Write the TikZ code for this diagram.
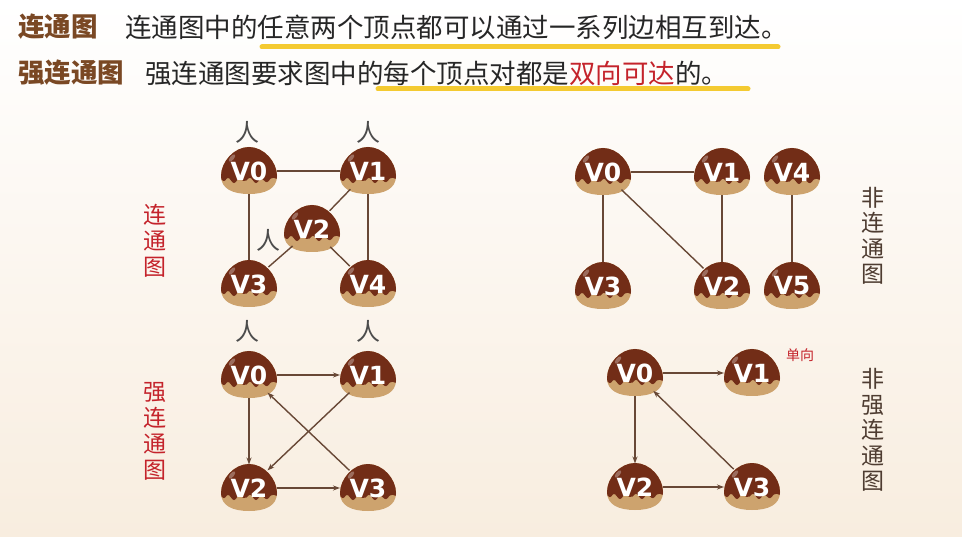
\documentclass[tikz,border=0pt]{standalone}
\usepackage{fontspec}
\usepackage{xcolor}
\usepackage{tikz}
\usetikzlibrary{positioning,shapes.geometric,arrows.meta}

\newfontfamily\cjk{Noto Sans CJK SC}
\newfontfamily\vfont{DejaVu Sans}

\definecolor{nuttop}{HTML}{722D17}
\definecolor{nutlow}{HTML}{CDA36E}
\definecolor{edgec}{HTML}{684836}
\definecolor{hlyellow}{HTML}{F4C51C}
\definecolor{tagbrown}{HTML}{7A4824}
\definecolor{redtext}{HTML}{C4232B}
\definecolor{sidebrown}{HTML}{4E3C31}
\definecolor{bgbottom}{HTML}{F8EDDF}

% outline of one chestnut, centre at origin
\newcommand\nutoutline{(0pt,24pt) .. controls (15pt,24pt) and (28pt,9pt) .. (28pt,-5pt)
  .. controls (28pt,-18pt) and (16pt,-23pt) .. (0pt,-23pt)
  .. controls (-16pt,-23pt) and (-28pt,-18pt) .. (-28pt,-5pt)
  .. controls (-28pt,9pt) and (-15pt,24pt) .. (0pt,24pt) -- cycle}

% chestnut vertex: name, position, label
\newcommand\nut[3]{%
	\begin{scope}[shift={(#2)}]
		\fill[nutlow] \nutoutline;
		\begin{scope}
			\clip \nutoutline;
			\fill[nuttop, rounded corners=2pt] (-30pt,30pt) -- (-30pt,-6pt) -- (-25pt,-11pt) -- (-21pt,-6pt)
				-- (-15pt,-13pt) -- (-10pt,-7pt) -- (-4pt,-11pt) -- (1pt,-6pt) -- (7pt,-13pt)
				-- (12pt,-7pt) -- (18pt,-12pt) -- (23pt,-6pt) -- (30pt,-9pt) -- (30pt,30pt) -- cycle;
			\fill[white, opacity=.3, rotate around={50:(-17pt,13pt)}] (-17pt,13pt) ellipse (4.5pt and 2pt);
		\end{scope}
	\end{scope}
	\node[vtx] (#1) at (#2) {#3};}

\begin{document}
\begin{tikzpicture}[x=1pt, y=-1pt,
					vtx/.style={
						ellipse, minimum width=56pt, minimum height=47pt,
						inner sep=0pt, outer sep=0pt,
						text=white, font=\vfont\bfseries\fontsize{25}{25}\selectfont
					},
					link/.style={draw=edgec, line width=1.4pt},
					arr/.style={link, -{Stealth[length=7pt,width=5pt]}},
					tag/.style={font=\cjk\bfseries\fontsize{26.5}{30}\selectfont, text=tagbrown, inner sep=0pt, anchor=west},
					body/.style={font=\cjk\fontsize{26.5}{30}\selectfont, text=black!85, inner sep=0pt, anchor=west},
					hlline/.style={draw=hlyellow, line width=5pt, line cap=round, opacity=.9},
					sidered/.style={font=\cjk\fontsize{23}{26}\selectfont, text=redtext, align=center, inner sep=0pt},
					sidegray/.style={font=\cjk\fontsize{23}{25.5}\selectfont, text=sidebrown, align=center, inner sep=0pt},
					ren/.style={font=\cjk\fontsize{24}{24}\selectfont, text=black!70, inner sep=0pt},
					note/.style={font=\cjk\fontsize{14}{14}\selectfont, text=redtext, inner sep=0pt}
					]
	
	% --- BACKGROUND ---
	\shade[top color=white, bottom color=bgbottom] (0,0) rectangle (962,537);
	\useasboundingbox (0,0) rectangle (962,537);
	
	% --- TITLES ---
	\draw[hlline] (262,47) -- (778,47);
	\draw[hlline] (378,89) -- (748,89);
	\node[tag] (t1) at (18,27) {连通图};
	\node[body] (d1) at (125,27) {连通图中的任意两个顶点都可以通过一系列边相互到达。};
	\node[tag] (t2) at (18,73) {强连通图};
	\node[body] (d2) at (145,73) {强连通图要求图中的每个顶点对都是\textcolor{redtext}{双向可达}的。};
	
	% --- SIDE LABELS ---
	\node[sidered] (s1) at (155,241) {连\\通\\图};
	\node[sidered] (s2) at (155,431) {强\\连\\通\\图};
	\node[sidegray] (s3) at (873,236) {非\\连\\通\\图};
	\node[sidegray] (s4) at (873,430) {非\\强\\连\\通\\图};
	
	% --- GRAPH 1 (connected) ---
	\nut{a0}{249,171}{V0}
	\nut{a1}{368,171}{V1}
	\nut{a2}{312,229}{V2}
	\nut{a3}{249,284}{V3}
	\nut{a4}{368,284}{V4}
	\node[ren] (r1) at (247,132) {人};
	\node[ren] (r2) at (368,132) {人};
	\node[ren] (r3) at (268,240) {人};
	\draw[link] (a0) -- (a1);
	\draw[link] (a0) -- (a3);
	\draw[link] (a1) -- (a2);
	\draw[link] (a1) -- (a4);
	\draw[link] (a2) -- (a3);
	\draw[link] (a2) -- (a4);
	
	% --- GRAPH 2 (not connected) ---
	\nut{b0}{603,172}{V0}
	\nut{b1}{722,172}{V1}
	\nut{b4}{792,172}{V4}
	\nut{b3}{603,286}{V3}
	\nut{b2}{722,286}{V2}
	\nut{b5}{792,286}{V5}
	\draw[link] (b0) -- (b1);
	\draw[link] (b0) -- (b3);
	\draw[link] (b0) -- (b2);
	\draw[link] (b1) -- (b2);
	\draw[link] (b4) -- (b5);
	
	% --- GRAPH 3 (strongly connected) ---
	\nut{c0}{249,375}{V0}
	\nut{c1}{368,375}{V1}
	\nut{c2}{249,488}{V2}
	\nut{c3}{368,488}{V3}
	\node[ren] (r4) at (247,331) {人};
	\node[ren] (r5) at (368,331) {人};
	\draw[arr] (c0) -- (c1);
	\draw[arr] (c0) -- (c2);
	\draw[arr] (c1) -- (c2);
	\draw[arr] (c2) -- (c3);
	\draw[arr] (c3) -- (c0);
	
	% --- GRAPH 4 (not strongly connected) ---
	\nut{d0}{635,373}{V0}
	\nut{dd1}{752,373}{V1}
	\nut{dd2}{635,487}{V2}
	\nut{d3}{752,487}{V3}
	\node[note] (n1) at (800,355) {单向};
	\draw[arr] (d0) -- (dd1);
	\draw[arr] (d0) -- (dd2);
	\draw[arr] (dd2) -- (d3);
	\draw[arr] (d3) -- (d0);
	
\end{tikzpicture}
\end{document}
